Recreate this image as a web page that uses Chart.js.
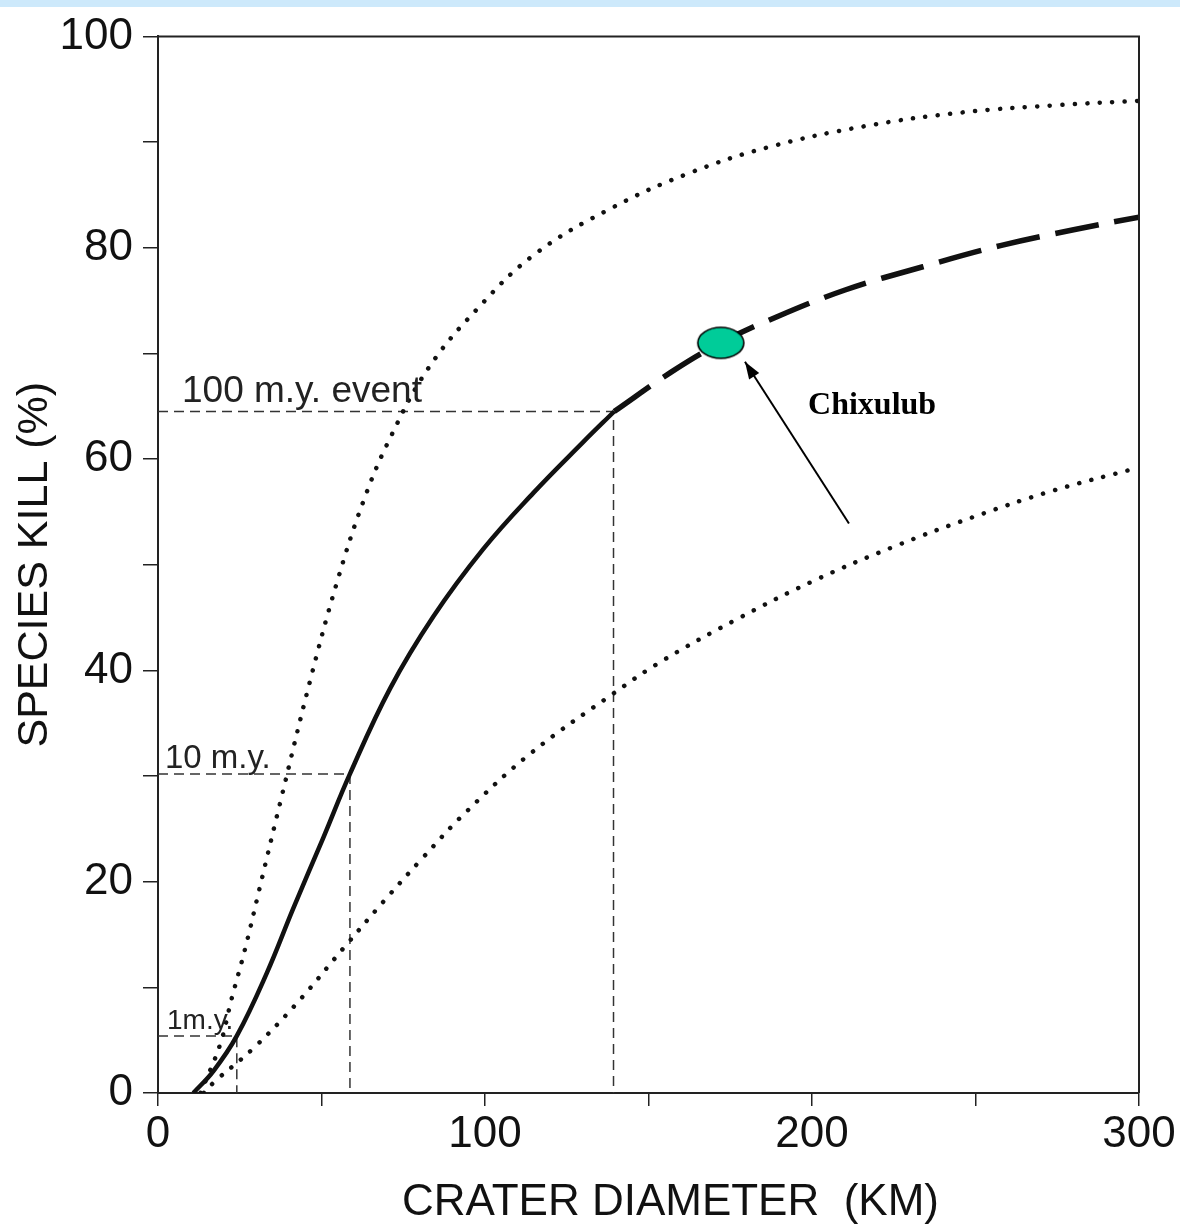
<!DOCTYPE html>
<html>
<head>
<meta charset="utf-8">
<title>Species kill vs crater diameter</title>
<script src="https://cdn.jsdelivr.net/npm/chart.js@4.4.1/dist/chart.umd.min.js"></script>
<style>
  html, body { margin: 0; padding: 0; background: #fff; }
  #wrap { width: 1180px; height: 1226px; }
</style>
</head>
<body>
<div id="wrap"><canvas id="killChart" width="1180" height="1226"></canvas></div>
<script>
// curve: crater diameter (km) vs species kill (%)
const meanX = [10.8, 17, 24.1, 33.2, 41.4, 50.6, 58.7, 71, 84.2, 99.5, 114.8, 130, 139.5];
const meanY = [0, 2.1, 5.4, 11.3, 17.5, 24.2, 30.2, 38.3, 45.1, 51.5, 56.8, 61.6, 64.5];

// dashed extrapolation past the 100 m.y. event
const projX = [139.5, 156.8, 172.1, 186.5, 210.1, 233.9, 257.6, 280, 300];
const projY = [64.5, 68.2, 71, 73.1, 76, 78.2, 80.2, 81.7, 82.9];

// dotted envelope, upper
const upperX = [13, 19, 22.5, 26.6, 31.7, 37.3, 46.5, 54.6, 62.8, 71, 82.7, 97.6, 115.3, 139, 162.8, 186.5, 216.1, 245.8, 275.4, 300];
const upperY = [0, 4.6, 8.9, 13.6, 20.2, 27.4, 39, 48.2, 56, 62, 68.6, 74.2, 79.4, 83.8, 87.1, 89.5, 91.5, 92.8, 93.5, 93.9];

// dotted envelope, lower
const lowerX = [14, 17.4, 28.7, 41.9, 56.7, 68.9, 81.1, 93.9, 113.8, 139.2, 154.2, 177.4, 200.7, 225, 249.2, 273.6, 300];
const lowerY = [0, 1.1, 4.1, 8.3, 13.7, 18.1, 22.3, 26.5, 32.1, 37.8, 40.9, 44.9, 48.5, 51.7, 54.5, 57, 59.2];

// reference events (dashed guides)
const eventX = [24.1, 58.7, 139.3];
const eventY = [5.4, 30.2, 64.5];
const eventLabels = ['1m.y.', '10 m.y.', '100 m.y. event'];

// Chixulub marker and its arrow
const chixX = [172.1];
const chixY = [71];
const arrowX = [211.3, 179.5];
const arrowY = [53.9, 69.2];
const chixLabel = 'Chixulub';
const chixLabelAt = [198.8, 64.3];

const xTicks = [0, 100, 200, 300];
const yTicks = [0, 20, 40, 60, 80, 100];

const pts = (xs, ys) => xs.map((x, i) => ({ x: x, y: ys[i] }));

function ellipseMark(w, h) {
  const c = document.createElement('canvas');
  c.width = w + 4;
  c.height = h + 4;
  const g = c.getContext('2d');
  g.beginPath();
  g.ellipse(c.width / 2, c.height / 2, w / 2, h / 2, 0, 0, Math.PI * 2);
  g.fillStyle = '#00cc99';
  g.fill();
  g.lineWidth = 1.6;
  g.strokeStyle = '#000';
  g.stroke();
  return c;
}

const SANS = '"Liberation Sans", Arial, Helvetica, sans-serif';
Chart.defaults.font.family = SANS;
Chart.defaults.color = '#111';

const guideSets = eventX.map((ex, i) => ({
  data: [{ x: 0, y: eventY[i] }, { x: ex, y: eventY[i] }, { x: ex, y: 0 }],
  borderColor: '#333',
  borderWidth: 1.5,
  borderDash: [10, 6],
  pointRadius: 0,
  tension: 0
}));

const extras = {
  id: 'extras',
  beforeDraw(chart) {
    const ctx = chart.ctx;
    ctx.save();
    ctx.fillStyle = '#cde9fb';
    ctx.fillRect(0, 0, chart.width, 7);
    ctx.restore();
  },
  afterDatasetsDraw(chart) {
    const ctx = chart.ctx;
    const a = chart.chartArea;
    const sx = chart.scales.x, sy = chart.scales.y;
    ctx.save();

    // frame top + right
    ctx.strokeStyle = '#222';
    ctx.lineWidth = 2;
    ctx.beginPath();
    ctx.moveTo(a.left, a.top);
    ctx.lineTo(a.right, a.top);
    ctx.lineTo(a.right, a.bottom);
    ctx.stroke();

    // event labels
    const sizes = [28, 33, 37];
    const inset = [9, 7, 24];
    const lift = [7, 6, 9];
    ctx.fillStyle = '#222';
    ctx.textAlign = 'left';
    ctx.textBaseline = 'alphabetic';
    eventLabels.forEach((t, i) => {
      ctx.font = sizes[i] + 'px ' + SANS;
      ctx.fillText(t, a.left + inset[i], sy.getPixelForValue(eventY[i]) - lift[i]);
    });

    // arrow head
    const x0 = sx.getPixelForValue(arrowX[0]), y0 = sy.getPixelForValue(arrowY[0]);
    const x1 = sx.getPixelForValue(arrowX[1]), y1 = sy.getPixelForValue(arrowY[1]);
    const ang = Math.atan2(y1 - y0, x1 - x0);
    const len = 17, half = 6;
    ctx.fillStyle = '#000';
    ctx.beginPath();
    ctx.moveTo(x1, y1);
    ctx.lineTo(x1 - len * Math.cos(ang) + half * Math.sin(ang), y1 - len * Math.sin(ang) - half * Math.cos(ang));
    ctx.lineTo(x1 - len * Math.cos(ang) - half * Math.sin(ang), y1 - len * Math.sin(ang) + half * Math.cos(ang));
    ctx.closePath();
    ctx.fill();

    // Chixulub label
    ctx.font = 'bold 32px "Liberation Serif", "Times New Roman", serif';
    ctx.fillText(chixLabel, sx.getPixelForValue(chixLabelAt[0]), sy.getPixelForValue(chixLabelAt[1]));

    // x axis title
    ctx.font = '44px ' + SANS;
    ctx.fillStyle = '#111';
    ctx.textAlign = 'center';
    ctx.fillText('CRATER DIAMETER  (KM)', (a.left + a.right) / 2 + 22, chart.height - 11);
    ctx.restore();
  }
};

const ctx = document.getElementById('killChart').getContext('2d');
const killChart = new Chart(ctx, {
  type: 'line',
  data: {
    datasets: [
      {
        data: pts(chixX, chixY),
        pointStyle: ellipseMark(46, 31),
        pointRadius: 20,
        showLine: false
      },
      {
        data: pts(arrowX, arrowY),
        borderColor: '#000',
        borderWidth: 2,
        pointRadius: 0,
        tension: 0
      },
      {
        data: pts(meanX, meanY),
        borderColor: '#111',
        borderWidth: 4.5,
        pointRadius: 0,
        tension: 0.4
      },
      {
        data: pts(projX, projY),
        borderColor: '#111',
        borderWidth: 5.5,
        borderDash: [44, 16],
        pointRadius: 0,
        tension: 0.4
      },
      {
        data: pts(upperX, upperY),
        borderColor: '#111',
        borderWidth: 4.5,
        borderDash: [0.1, 12.4],
        borderCapStyle: 'round',
        pointRadius: 0,
        tension: 0.4
      },
      {
        data: pts(lowerX, lowerY),
        borderColor: '#111',
        borderWidth: 4.5,
        borderDash: [0.1, 12.4],
        borderCapStyle: 'round',
        pointRadius: 0,
        tension: 0.4
      },
      ...guideSets
    ]
  },
  options: {
    responsive: false,
    animation: false,
    layout: { padding: { top: 35, right: 41, bottom: 0, left: 0 } },
    plugins: { legend: { display: false }, tooltip: { enabled: false } },
    scales: {
      x: {
        type: 'linear',
        min: 0,
        max: 300,
        afterFit: (s) => { s.height = 133; },
        ticks: {
          stepSize: 50,
          padding: 2,
          maxRotation: 0,
          autoSkip: false,
          font: { size: 44 },
          callback: (v) => xTicks.includes(v) ? v : ''
        },
        grid: { drawOnChartArea: false, tickLength: 13, color: '#222', lineWidth: 1.5 },
        border: { display: true, color: '#222', width: 2 }
      },
      y: {
        min: 0,
        max: 100,
        afterFit: (s) => { s.width = 158; },
        ticks: {
          stepSize: 10,
          padding: 10,
          autoSkip: false,
          font: { size: 44 },
          callback: (v) => yTicks.includes(v) ? v : ''
        },
        grid: { drawOnChartArea: false, tickLength: 15, color: '#222', lineWidth: 1.5 },
        border: { display: true, color: '#222', width: 2 },
        title: {
          display: true,
          text: 'SPECIES KILL (%)',
          font: { size: 43, lineHeight: 1.2 },
          color: '#111',
          padding: { top: 9, bottom: 0 }
        }
      }
    }
  },
  plugins: [extras]
});
</script>
</body>
</html>
